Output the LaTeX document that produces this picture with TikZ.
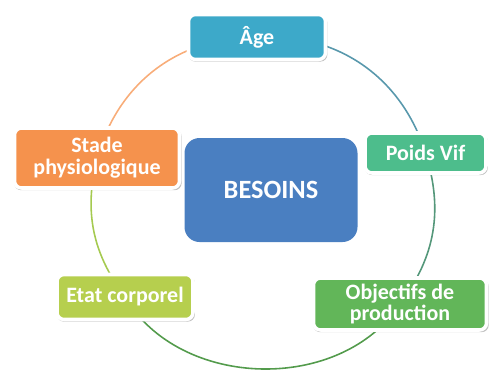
\documentclass[tikz,border=0pt]{standalone}
\usepackage{fontspec}
\setmainfont{Carlito}
\usetikzlibrary{shadows,backgrounds}

\definecolor{agecol}{HTML}{3DA9C9}
\definecolor{stadecol}{HTML}{F5924D}
\definecolor{besoinscol}{HTML}{4A7FC1}
\definecolor{poidscol}{HTML}{4DBD8C}
\definecolor{etatcol}{HTML}{B6CF4E}
\definecolor{objcol}{HTML}{62B659}

\begin{document}
\begin{tikzpicture}[
  critere/.style={rounded corners=0.14cm, draw=white, line width=2pt, text=white,
    font=\bfseries\fontsize{12.5}{12.5}\selectfont, align=center, inner sep=0pt,
    drop shadow={shadow xshift=0.5pt, shadow yshift=-1pt, shadow scale=1.015, opacity=0.5}},
  lien/.style={line width=0.9pt}]

\useasboundingbox (0,0) rectangle (9.78,-7.44);

\node[critere, fill=agecol, minimum width=2.74cm, minimum height=0.9cm] (age) at (5.14,-0.74) {Âge};
\node[critere, fill=stadecol, minimum width=3.3cm, minimum height=1.2cm] (stade) at (1.94,-3.16) {Stade\\physiologique};
\node[critere, fill=poidscol, minimum width=2.42cm, minimum height=0.8cm] (poids) at (8.51,-3.06) {Poids Vif};
\node[critere, fill=etatcol, minimum width=2.72cm, minimum height=0.9cm] (etat) at (2.5,-5.94) {Etat corporel};
\node[critere, fill=objcol, minimum width=3.46cm, minimum height=1.04cm] (objectifs) at (8.0,-6.08) {Objectifs de\\production};

\node[fill=besoinscol, rounded corners=0.3cm, minimum width=3.46cm, minimum height=2.08cm,
  text=white, font=\bfseries\fontsize{15}{15}\selectfont] (besoins) at (5.42,-3.80) {BESOINS};

% cercle des liens
\begin{scope}[on background layer]
\draw[lien, color=agecol!75!black!80] (age.center) to[bend left=38] (poids.center);
\draw[lien, color=poidscol!70!black!85] (poids.center) to[bend left=27] (objectifs.center);
\draw[lien, color=objcol!85!black] (objectifs.center) to[bend left=58] (etat.center);
\draw[lien, color=etatcol!80!objcol] (etat.center) to[bend left=25] (stade.center);
\draw[lien, color=stadecol!75!white] (stade.center) to[bend left=37] (age.center);
\end{scope}

\end{tikzpicture}
\end{document}
